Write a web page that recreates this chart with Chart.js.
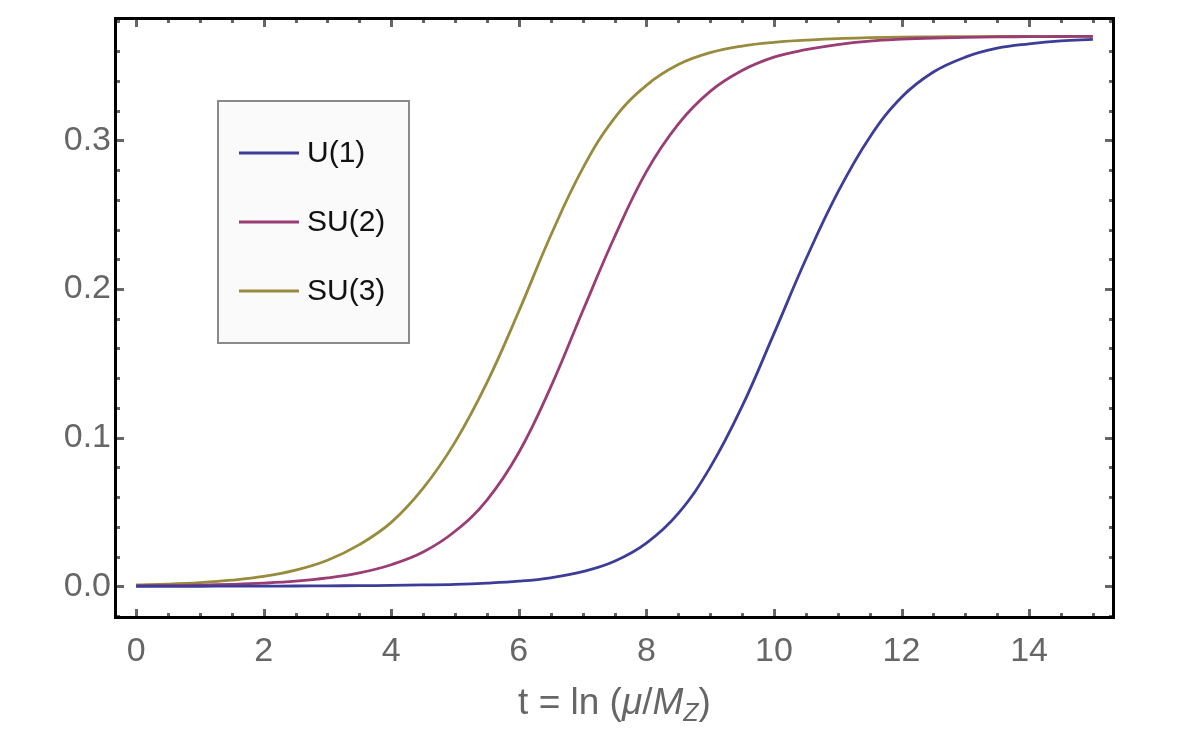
<!DOCTYPE html>
<html>
<head>
<meta charset="utf-8">
<script src="https://cdn.jsdelivr.net/npm/chart.js@4.4.1/dist/chart.umd.min.js"></script>
<style>
  html, body { margin: 0; padding: 0; background: #fff; }
  #wrap { width: 1180px; height: 730px; }
</style>
</head>
<body>
<div id="wrap"><canvas id="chart" width="1180" height="730"></canvas></div>
<script>
// t values shared by all three curves
const tValues = [0, 0.5, 1, 1.5, 2, 2.5, 3, 3.5, 4, 4.5, 5, 5.5, 6, 6.5, 7, 7.5, 8, 8.5, 9, 9.5, 10, 10.5, 11, 11.5, 12, 12.5, 13, 13.5, 14, 14.5, 15];

const u1Values = [0, 0, 0, 0.0001, 0.0001, 0.0002, 0.0003, 0.0004, 0.0006, 0.0009, 0.0013, 0.0021, 0.0034, 0.0057, 0.0098, 0.0168, 0.0290, 0.0490, 0.0800, 0.121, 0.170, 0.220, 0.265, 0.302, 0.329, 0.346, 0.356, 0.362, 0.365, 0.367, 0.368];
const su2Values = [0.0003, 0.0005, 0.0008, 0.0013, 0.0021, 0.0034, 0.0056, 0.0090, 0.0145, 0.023, 0.037, 0.058, 0.090, 0.134, 0.185, 0.235, 0.279, 0.311, 0.333, 0.347, 0.356, 0.361, 0.3645, 0.3668, 0.3681, 0.3689, 0.3693, 0.3696, 0.3698, 0.3699, 0.37];
const su3Values = [0.0009, 0.0015, 0.0025, 0.0041, 0.0066, 0.0108, 0.0175, 0.028, 0.043, 0.066, 0.097, 0.137, 0.185, 0.236, 0.281, 0.315, 0.337, 0.351, 0.359, 0.3635, 0.366, 0.3674, 0.3685, 0.3691, 0.3695, 0.3697, 0.3698, 0.3699, 0.37, 0.37, 0.37];

const seriesLabels = ['U(1)', 'SU(2)', 'SU(3)'];
const seriesColors = ['#3d3d99', '#993d74', '#998b3d'];

const xTicks = [0, 2, 4, 6, 8, 10, 12, 14];
const yTicks = [0, 0.1, 0.2, 0.3];
const xMinorStep = 0.5;
const yMinorStep = 0.02;

const FONT = '"Liberation Sans", Arial, Helvetica, sans-serif';

const toPoints = (vals) => vals.map((v, i) => ({ x: tValues[i], y: v }));

// frame, inward ticks, legend box and axis title (Mathematica-like look)
const framePlugin = {
  id: 'frame',
  afterDatasetsDraw(chart) {
    const { ctx, chartArea: a, scales } = chart;
    const xs = scales.x, ys = scales.y;
    ctx.save();

    // ticks
    ctx.strokeStyle = '#666';
    ctx.lineWidth = 3;
    const tick = (x1, y1, x2, y2) => { ctx.beginPath(); ctx.moveTo(x1, y1); ctx.lineTo(x2, y2); ctx.stroke(); };
    for (let k = -1; k <= 31; k++) {
      const v = k * xMinorStep;
      if (v < xs.min || v > xs.max) continue;
      const major = xTicks.includes(v);
      const len = major ? 7 : 3;
      const px = Math.round(xs.getPixelForValue(v)) + 0.5;
      tick(px, a.bottom, px, a.bottom - len);
      tick(px, a.top, px, a.top + len);
    }
    for (let k = -1; k <= 20; k++) {
      const v = +(k * yMinorStep).toFixed(2);
      if (v < ys.min || v > ys.max) continue;
      const major = yTicks.some(t => Math.abs(t - v) < 1e-9);
      const len = major ? 7 : 3;
      const py = Math.round(ys.getPixelForValue(v)) + 0.5;
      tick(a.left, py, a.left + len, py);
      tick(a.right, py, a.right - len, py);
    }

    // frame
    ctx.strokeStyle = '#000';
    ctx.lineWidth = 3;
    ctx.strokeRect(a.left - 1.5, a.top - 1.5, a.right - a.left + 3, a.bottom - a.top + 3);

    // legend
    const lx = 218, ly = 101, lw = 191, lh = 242;
    ctx.fillStyle = '#fafafa';
    ctx.fillRect(lx, ly, lw, lh);
    ctx.strokeStyle = '#8a8a8a';
    ctx.lineWidth = 2;
    ctx.strokeRect(lx, ly, lw, lh);
    ctx.font = '30px ' + FONT;
    ctx.textBaseline = 'middle';
    ctx.textAlign = 'left';
    chart.data.datasets.forEach((ds, i) => {
      const y = 153 + i * 69;
      ctx.strokeStyle = ds.borderColor;
      ctx.lineWidth = 3;
      tick(239, y, 299, y);
      ctx.fillStyle = '#111';
      ctx.fillText(ds.label, 307, y + 1);
    });

    // x axis title: t = ln (μ/M_Z)
    ctx.fillStyle = '#666';
    ctx.textBaseline = 'alphabetic';
    const base = 714;
    const parts = [
      { t: 't = ln (', f: '37px ' + FONT, dy: 0 },
      { t: 'μ', f: 'italic 37px ' + FONT, dy: 0 },
      { t: '/', f: '37px ' + FONT, dy: 0 },
      { t: 'M', f: 'italic 37px ' + FONT, dy: 0 },
      { t: 'Z', f: 'italic 25px ' + FONT, dy: 7 },
      { t: ')', f: '37px ' + FONT, dy: 0 },
    ];
    let total = 0;
    parts.forEach(p => { ctx.font = p.f; p.w = ctx.measureText(p.t).width; total += p.w; });
    let x = (a.left + a.right) / 2 - total / 2;
    parts.forEach(p => { ctx.font = p.f; ctx.fillText(p.t, x, base + p.dy); x += p.w; });

    ctx.restore();
  }
};

function makeDataset(label, vals, color) {
  return {
    label,
    data: toPoints(vals),
    borderColor: color,
    backgroundColor: color,
    borderWidth: 2.8,
    pointRadius: 0,
    fill: false,
    tension: 0.4,
  };
}

const noPad = (s) => { s.paddingTop = 0; s.paddingBottom = 0; s.paddingLeft = 0; s.paddingRight = 0; };

const ctx = document.getElementById('chart').getContext('2d');
new Chart(ctx, {
  type: 'line',
  data: {
    datasets: [
      makeDataset(seriesLabels[0], u1Values, seriesColors[0]),
      makeDataset(seriesLabels[1], su2Values, seriesColors[1]),
      makeDataset(seriesLabels[2], su3Values, seriesColors[2]),
    ]
  },
  options: {
    responsive: false,
    animation: false,
    layout: { padding: { top: 20, right: 68, left: 0, bottom: 0 } },
    plugins: { legend: { display: false }, tooltip: { enabled: false } },
    scales: {
      x: {
        type: 'linear',
        min: -0.3,
        max: 15.3,
        grid: { display: false, drawTicks: false },
        border: { display: false },
        afterBuildTicks: (s) => { s.ticks = xTicks.map(v => ({ value: v })); },
        afterFit: (s) => { s.height = 114; noPad(s); },
        ticks: {
          padding: 15,
          color: '#666',
          font: { family: FONT, size: 34 },
          callback: (v) => String(v),
          maxRotation: 0,
        }
      },
      y: {
        type: 'linear',
        min: -0.02,
        max: 0.381,
        grid: { display: false, drawTicks: false },
        border: { display: false },
        afterBuildTicks: (s) => { s.ticks = yTicks.map(v => ({ value: v })); },
        afterFit: (s) => { s.width = 117; noPad(s); },
        ticks: {
          padding: 6,
          color: '#666',
          font: { family: FONT, size: 34 },
          callback: (v) => Number(v).toFixed(1),
        }
      }
    }
  },
  plugins: [framePlugin]
});
</script>
</body>
</html>
